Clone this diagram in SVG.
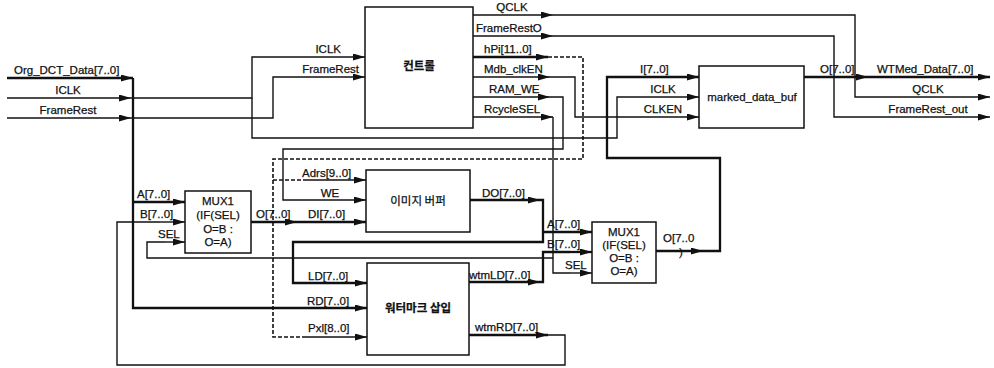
<svg xmlns="http://www.w3.org/2000/svg" width="994" height="368" viewBox="0 0 994 368">
<style>
.w{fill:none;stroke:#111;stroke-width:1.4}
.b{fill:none;stroke:#111;stroke-width:2.3}
.d{fill:none;stroke:#111;stroke-width:1.6;stroke-dasharray:4 2}
.a{marker-end:url(#arr)}
.box{fill:#fff;stroke:#111;stroke-width:1.5}
text{font-family:"Liberation Sans","Noto Sans CJK KR",sans-serif;font-size:11.5px;fill:#111;stroke:#111;stroke-width:0.25}
.k{font-family:"Noto Sans CJK KR","Liberation Sans",sans-serif;font-size:11.5px}
.kb{font-weight:bold}
.m{text-anchor:middle}
.e{text-anchor:end}
</style>
<defs>
<marker id="arr" markerUnits="userSpaceOnUse" markerWidth="12" markerHeight="7" refX="12" refY="3.5" orient="auto">
<path d="M0,0 L12,3.5 L0,7 z" fill="#111"/>
</marker>
</defs>
<rect width="994" height="368" fill="#fff"/>
<g id="connectors">
<path class="b a" d="M7,78 H133"/>
<path class="b" d="M133,78 V308 H310"/>
<path class="b a" d="M310,308 H367"/>
<path class="b a" d="M133,202 H185"/>
<path class="w a" d="M7,98 H131"/>
<path class="w" d="M131,98 H252 V57 H320"/>
<path class="w a" d="M320,57 H365"/>
<path class="w" d="M252,98 V138 H617 V97 H650"/>
<path class="w a" d="M650,97 H699"/>
<path class="w a" d="M7,118 H131"/>
<path class="w" d="M131,118 H273 V77 H320"/>
<path class="w a" d="M320,77 H365"/>
<path class="w a" d="M473,15 H553"/>
<path class="w" d="M553,15 H855 V97 H930"/>
<path class="w a" d="M930,97 H990"/>
<path class="w a" d="M473,36 H553"/>
<path class="w" d="M553,36 H834 V117 H930"/>
<path class="w a" d="M930,117 H990"/>
<path class="b a" d="M473,57 H548"/>
<path class="d" d="M548,57 H583 V159 H273 V337 H305"/>
<path class="d" d="M273,180 H303"/>
<path class="w a" d="M303,180 H366"/>
<path class="w a" d="M305,337 H367"/>
<path class="w a" d="M473,77 H550"/>
<path class="w" d="M550,77 H575 V117 H650"/>
<path class="w a" d="M650,117 H699"/>
<path class="w a" d="M473,97 H550"/>
<path class="w" d="M550,97 H563 V149 H283 V200 H320"/>
<path class="w a" d="M320,200 H366"/>
<path class="w a" d="M473,117 H553"/>
<path class="w" d="M553,117 V273 H570"/>
<path class="w a" d="M570,273 H592"/>
<path class="w" d="M553,258 H147 V242 H165"/>
<path class="w a" d="M165,242 H185"/>
<path class="b a" d="M251,222 H297"/>
<path class="b a" d="M297,222 H366"/>
<path class="b a" d="M470,200 H540"/>
<path class="b" d="M540,200 H543 V242 H293 V283 H320"/>
<path class="b a" d="M320,283 H367"/>
<path class="b a" d="M543,232 H592"/>
<path class="b a" d="M469,282 H540"/>
<path class="b" d="M540,282 H543 V252 H570"/>
<path class="b a" d="M570,252 H592"/>
<path class="b a" d="M469,335 H548"/>
<path class="w" d="M548,335 H565 V365 H117 V222 H160"/>
<path class="w a" d="M160,222 H185"/>
<path class="b a" d="M656,251 H703"/>
<path class="b" d="M703,251 H720 V158 H607 V77 H650"/>
<path class="b a" d="M650,77 H699"/>
<path class="b a" d="M804,77 H868"/>
<path class="b a" d="M868,77 H990"/>
<text x="14" y="74">Org_DCT_Data[7..0]</text>
<text class="m" x="68" y="94">ICLK</text>
<text class="m" x="68" y="114">FrameRest</text>
<text class="e" x="341" y="53">ICLK</text>
<text class="e" x="359" y="73">FrameRest</text>
<text class="m" x="512" y="11">QCLK</text>
<text x="476" y="32">FrameRestO</text>
<text x="484" y="53">hPi[11..0]</text>
<text x="484" y="73">Mdb_clkEN</text>
<text x="489" y="93">RAM_WE</text>
<text x="484" y="113">RcycleSEL</text>
<text x="640" y="73">I[7..0]</text>
<text class="m" x="663" y="93">ICLK</text>
<text class="m" x="663" y="113">CLKEN</text>
<text x="820" y="73">O[7..0]</text>
<text x="877" y="73">WTMed_Data[7..0]</text>
<text class="m" x="928" y="93">QCLK</text>
<text class="m" x="928" y="113">FrameRest_out</text>
<text x="302" y="177">Adrs[9..0]</text>
<text class="m" x="330" y="197">WE</text>
<text x="256" y="218">O[7..0]</text>
<text x="308" y="218">DI[7..0]</text>
<text x="482" y="197">DO[7..0]</text>
<text x="137" y="198">A[7..0]</text>
<text x="140" y="218">B[7..0]</text>
<text x="158" y="238">SEL</text>
<text x="547" y="228">A[7..0]</text>
<text x="547" y="248">B[7..0]</text>
<text x="565" y="269">SEL</text>
<text x="663" y="242">O[7..0</text>
<text x="679" y="256">)</text>
<text x="308" y="280">LD[7..0]</text>
<text x="307" y="305">RD[7..0]</text>
<text x="308" y="332">Pxl[8..0]</text>
<text x="469" y="279">wtmLD[7..0]</text>
<text x="475" y="331">wtmRD[7..0]</text>
</g>
<g id="controller">
<rect class="box" x="365" y="7" width="108" height="121"/>
<text class="k kb m" x="419" y="70">컨트롤</text>
</g>
<g id="marked_data_buf">
<rect class="box" x="699" y="66" width="105" height="62"/>
<text class="m" x="752" y="101">marked_data_buf</text>
</g>
<g id="image_buffer">
<rect class="box" x="366" y="170" width="104" height="62"/>
<text class="k m" x="418" y="205">이미지 버퍼</text>
</g>
<g id="watermark">
<rect class="box" x="367" y="263" width="102" height="92"/>
<text class="k kb m" x="418" y="312">워터마크 삽입</text>
</g>
<g id="mux1">
<rect class="box" x="185" y="191" width="66" height="62"/>
<text class="m" x="218" y="205">MUX1</text>
<text class="m" x="218" y="219">(IF(SEL)</text>
<text class="m" x="218" y="233">O=B :</text>
<text class="m" x="218" y="246">O=A)</text>
</g>
<g id="mux2">
<rect class="box" x="592" y="222" width="64" height="61"/>
<text class="m" x="624" y="236">MUX1</text>
<text class="m" x="624" y="249">(IF(SEL)</text>
<text class="m" x="624" y="262">O=B :</text>
<text class="m" x="624" y="275">O=A)</text>
</g>
</svg>
